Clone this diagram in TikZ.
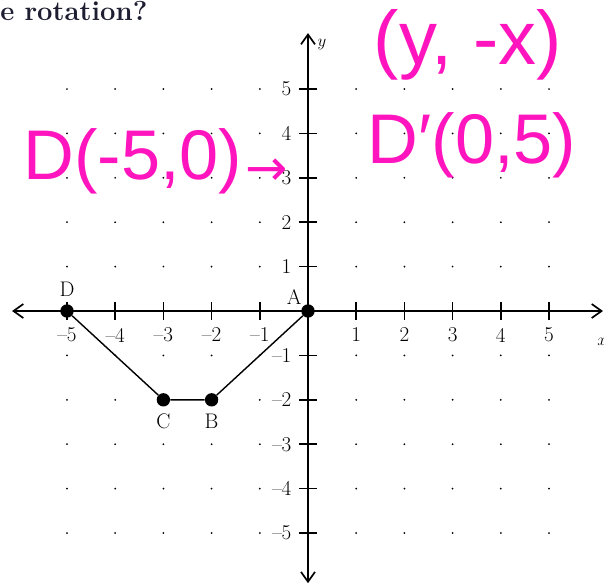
\documentclass[tikz,border=0pt]{standalone}
\usepackage{fontspec}
\usepackage{xcolor}
\usepackage{tikz}
\usetikzlibrary{arrows.meta}
\newfontfamily\handfont{Liberation Sans}
\newfontfamily\symfont{DejaVu Sans}
\definecolor{inkpink}{RGB}{255, 20, 190}
\definecolor{titlenavy}{RGB}{30, 30, 50}

\begin{document}
\begin{tikzpicture}[x=1.205cm, y=1.11cm,
    axis/.style={line width=1.2pt, {Straight Barb[length=7pt,width=10pt]}-{Straight Barb[length=7pt,width=10pt]}},
    vertex/.style={circle, fill=black, inner sep=0pt, minimum size=9.5pt},
    ticklabel/.style={font=\fontsize{15}{15}\selectfont, inner sep=1pt},
    ink/.style={inkpink, font=\handfont\fontsize{50}{50}\selectfont, inner sep=0pt}]
    \useasboundingbox (-6.39,-6.216) rectangle (6.141,7.005);

    % Question title
    \node[anchor=base west, titlenavy, inner sep=0pt,
          font=\fontsize{19.5}{21}\selectfont\bfseries] (title) at (-6.39,6.54) {e rotation?};

    % Grid dots
    \foreach \i in {-5,...,5}
        \foreach \j in {-5,...,5}
            \fill (\i,\j) circle (0.7pt);

    % Axes
    \coordinate (xmin) at (-6.14,0);
    \coordinate (xmax) at (6.12,0);
    \coordinate (ymin) at (0,-6.13);
    \coordinate (ymax) at (0,6.26);
    \draw[axis] (xmin) -- (xmax);
    \draw[axis] (ymin) -- (ymax);
    \node[font=\fontsize{12}{12}\selectfont] (ylab) at (0.29,6.0) {$y$};
    \node[font=\fontsize{12}{12}\selectfont] (xlab) at (6.1,-0.7) {$x$};

    % Ticks and numbers
    \foreach \i in {1,...,5} {
        \draw[line width=1.2pt] (\i,-0.2) -- (\i,0.2);
        \draw[line width=1.2pt] (-\i,-0.2) -- (-\i,0.2);
        \draw[line width=1.2pt] (-0.19,\i) -- (0.19,\i);
        \draw[line width=1.2pt] (-0.19,-\i) -- (0.19,-\i);
        \node[ticklabel] (xp\i) at (\i,-0.54) {\i};
        \node[ticklabel] (xm\i) at (-\i,-0.54) {\textendash\i};
        \node[ticklabel, anchor=east] (yp\i) at (-0.31,\i) {\i};
        \node[ticklabel, anchor=east] (ym\i) at (-0.31,-\i) {\textendash\i};
    }

    % Figure DCBA
    \node[vertex, label={[ticklabel, label distance=4pt]above:D}] (D) at (-5,0) {};
    \node[vertex, label={[ticklabel, label distance=0pt]above left:A}] (A) at (0,0) {};
    \node[vertex, label={[ticklabel, label distance=4pt]below:C}] (C) at (-3,-2) {};
    \node[vertex, label={[ticklabel, label distance=4pt]below:B}] (B) at (-2,-2) {};
    \draw[line width=1pt] (D) -- (C) -- (B) -- (A);

    % Handwritten notes
    \node[ink, font=\handfont\fontsize{54}{54}\selectfont] (rule) at (3.32,5.99) {(y, -x)};
    \node[ink] (Dold) at (-3.63,3.38) {D(-5,0)};
    \node[ink, font=\symfont\fontsize{36}{36}\selectfont] (maps) at (-0.85,3.13) {→};
    \node[ink] (Dnew) at (3.40,3.74) {D′(0,5)};
\end{tikzpicture}
\end{document}
